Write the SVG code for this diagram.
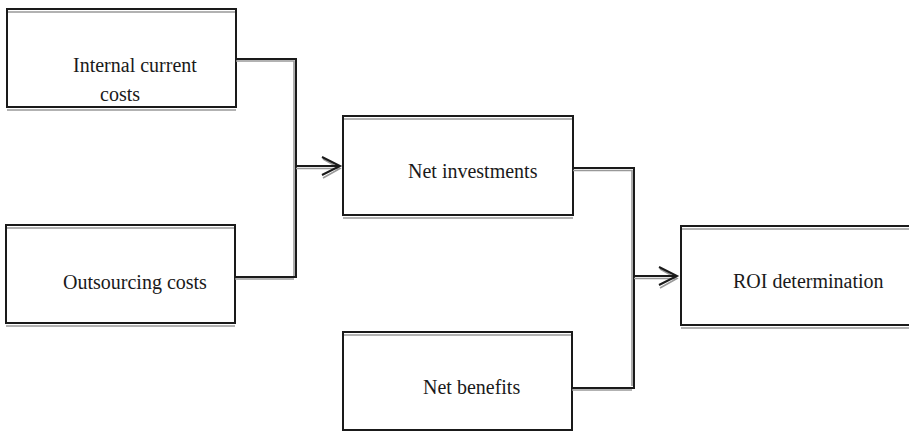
<svg xmlns="http://www.w3.org/2000/svg" width="909" height="433" viewBox="0 0 909 433">
<style>
.b{fill:none;stroke:#1a1a1a;stroke-width:2}
.g{fill:none;stroke:#999;stroke-width:1.6}
.t{font-family:"Liberation Serif","Times New Roman",serif;font-size:20px;fill:#1a1a1a}
</style>
<rect width="909" height="433" fill="#fff"/>
<g id="node-internal">
<line class="g" x1="7" y1="12" x2="236" y2="12"/>
<line class="g" x1="7" y1="110" x2="236" y2="110"/>
<rect class="b" x="7" y="9" width="229" height="98"/>
<text class="t" x="73" y="72">Internal current</text>
<text class="t" x="100" y="101">costs</text>
</g>
<g id="node-outsourcing">
<line class="g" x1="6" y1="228" x2="235" y2="228"/>
<line class="g" x1="6" y1="326" x2="235" y2="326"/>
<rect class="b" x="6" y="225" width="229" height="98"/>
<text class="t" x="63" y="289">Outsourcing costs</text>
</g>
<g id="node-netinv">
<line class="g" x1="343" y1="119" x2="573" y2="119"/>
<line class="g" x1="343" y1="218" x2="573" y2="218"/>
<rect class="b" x="343" y="116" width="230" height="99"/>
<text class="t" x="408" y="178">Net investments</text>
</g>
<g id="node-netben">
<line class="g" x1="343" y1="335" x2="572" y2="335"/>
<rect class="b" x="343" y="332" width="229" height="98"/>
<text class="t" x="423" y="394">Net benefits</text>
</g>
<g id="node-roi">
<line class="g" x1="681" y1="229" x2="912" y2="229"/>
<line class="g" x1="681" y1="328" x2="912" y2="328"/>
<rect class="b" x="681" y="226" width="240" height="99"/>
<text class="t" x="733" y="288">ROI determination</text>
</g>
<g id="connectors">
<path class="g" d="M236 61 H294 V276"/>
<path class="g" d="M235 279 H294"/>
<path class="b" d="M236 59 H296 V277 H235"/>
<path class="g" d="M296 168.5 H338 M323 159 L340 168.5 L323 178"/>
<path class="b" d="M296 166 H338 M322 157 L340 166 L322 175"/>
<path class="g" d="M573 170.5 H632 V386"/>
<path class="g" d="M572 390 H632"/>
<path class="b" d="M573 168 H634 V388 H572"/>
<path class="g" d="M634 278.5 H675 M660 269 L677 278.5 L660 288"/>
<path class="b" d="M634 276 H675 M659 267 L677 276 L659 285"/>
</g>
</svg>
